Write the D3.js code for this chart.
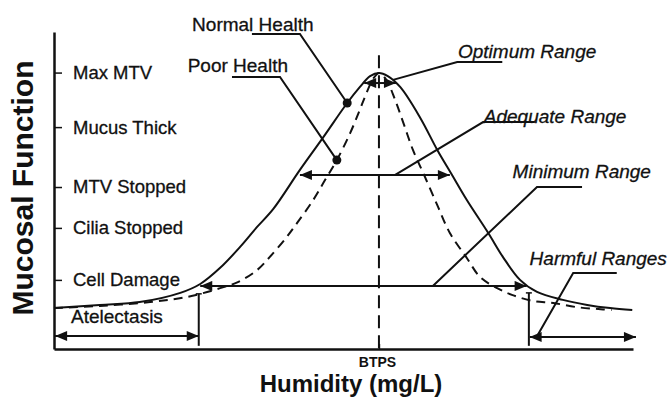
<!DOCTYPE html>
<html>
<head>
<meta charset="utf-8">
<script src="https://cdn.jsdelivr.net/npm/d3@7"></script>
<style>
  body { margin: 0; background: #fff; }
  svg { display: block; font-family: "Liberation Sans", Arial, sans-serif; }
</style>
</head>
<body>
<div id="chart"></div>
<script>
// humidity (mg/L) and mucosal function (relative units)
const normalHumidity = [0, 6.2, 11.6, 17.1, 19.8, 22.5, 25.2, 27.5, 29.7, 33.3, 36.4, 39.7, 41.4, 42.8, 44, 45.2, 46.9, 49.6, 51.9, 53.9, 55.9, 58.8, 60.8, 63.1, 65.4, 68.9, 72.2, 75.3, 78.3];
const normalFunction = [12.9, 13.9, 14.8, 17.7, 20.5, 25.6, 32.2, 38.5, 44.2, 56.5, 66.6, 77.6, 82.6, 86.1, 87.1, 86.1, 82.6, 72.9, 62.8, 54.9, 47.0, 36.6, 29.0, 21.8, 18.0, 15.5, 13.9, 12.9, 12.3];

const poorHumidity = [0, 6.2, 13.0, 18.0, 22.5, 24.9, 27.5, 29.2, 31.5, 32.9, 35.1, 36.7, 38.3, 40.1, 41.4, 42.2, 43.2, 44, 45.0, 46.2, 47.4, 48.6, 50.0, 51.9, 53.6, 55.9, 57.7, 60.0, 62.1, 64.9, 67.6, 70.8, 73.7, 75.5];
const poorFunction = [12.9, 13.6, 14.8, 16.4, 19.2, 21.1, 24.9, 29.0, 35.3, 39.7, 47.0, 53.3, 59.6, 68.1, 75.4, 80.1, 85.2, 87.1, 84.9, 78.5, 70.7, 62.8, 55.5, 45.4, 36.6, 28.7, 22.7, 19.2, 17.0, 15.1, 14.5, 13.2, 12.6, 12.3];

// y axis levels
const levelLabels = ["Cell Damage", "Cilia Stopped", "MTV Stopped", "Mucus Thick", "Max MTV"];
const levelValues = [21.8, 38.2, 51.1, 70.0, 87.2];

// x axis
const btpsLabel = "BTPS";
const btpsValue = 44;

// humidity ranges (double arrows)
const rangeNames = ["Optimum", "Adequate", "Minimum", "Low harmful", "High harmful"];
const rangeFrom = [42.0, 33.3, 19.8, 0.15, 64.4];
const rangeTo = [46.3, 53.6, 64.0, 19.6, 78.8];
const rangeLevel = [83.9, 54.9, 19.9, 4.1, 3.8];

// limits of the minimum range
const boundHumidity = [19.6, 64.3];
const boundTop = [17.4, 17.7];
const boundBottom = [1, 1];

// callouts
const calloutText = ["Normal Health", "Poor Health", "Optimum Range", "Adequate Range", "Minimum Range", "Harmful Ranges"];
const calloutItalic = [false, false, true, true, true, true];
const textHumidity = [18.7, 18.1, 54.7, 58.2, 62.1, 64.4];
const textFunction = [100.3, 87.4, 91.8, 71.3, 53.9, 26.5];
const underlineEnd = [26.8, 24.1, 60.7, 65.1, 71.5, 76.2];
const elbowHumidity = [33.3, 30.6, 54.6, 58.1, 65.4, 70.3];
const elbowFunction = [99.4, 85.8, 90.5, 71.6, 51.1, 24.0];
const targetHumidity = [39.7, 38.3, 45.9, 46.2, 51.3, 65.5];
const targetFunction = [77.6, 59.6, 84.9, 54.9, 19.9, 4.4];

const width = 672, height = 404;
const ink = "#111";

const svg = d3.select("#chart").append("svg")
    .attr("width", width)
    .attr("height", height);

const x = d3.scaleLinear().domain([0, 78.4]).range([54, 633]);
const y = d3.scaleLinear().domain([0, 100]).range([349, 32]);

// arrow heads
svg.append("defs").append("marker")
    .attr("id", "head")
    .attr("viewBox", "0 0 12 10")
    .attr("refX", 12).attr("refY", 5)
    .attr("markerWidth", 13).attr("markerHeight", 10)
    .attr("markerUnits", "userSpaceOnUse")
    .attr("orient", "auto-start-reverse")
    .append("path")
    .attr("d", "M0,0L12,5L0,10Z")
    .attr("fill", ink);

// axes
const yAxis = d3.axisRight(y)
    .tickValues(levelValues)
    .tickFormat((d, i) => levelLabels[i])
    .tickSizeInner(8)
    .tickSizeOuter(0)
    .tickPadding(11);

const gy = svg.append("g").attr("transform", `translate(${x(0)},0)`).call(yAxis);
gy.select(".domain").attr("stroke", ink).attr("stroke-width", 2.5);
gy.selectAll(".tick line").attr("stroke", ink).attr("stroke-width", 1.5);
gy.selectAll(".tick text")
    .attr("font-size", 18.5)
    .attr("font-family", "Liberation Sans, Arial, sans-serif")
    .attr("fill", ink)
    .attr("stroke", ink)
    .attr("stroke-width", 0.3);

const xAxis = d3.axisBottom(x)
    .tickValues([btpsValue])
    .tickFormat(() => btpsLabel)
    .tickSizeInner(-5)
    .tickSizeOuter(0)
    .tickPadding(8);

const gx = svg.append("g").attr("transform", `translate(0,${y(0)})`).call(xAxis);
gx.select(".domain").attr("stroke", ink).attr("stroke-width", 2.5);
gx.selectAll(".tick line").attr("stroke", ink).attr("stroke-width", 1.5);
gx.selectAll(".tick text")
    .attr("font-size", 14)
    .attr("font-weight", "bold")
    .attr("dx", -2)
    .attr("font-family", "Liberation Sans, Arial, sans-serif")
    .attr("fill", ink);

// BTPS dashed line
svg.append("line")
    .attr("x1", x(btpsValue)).attr("x2", x(btpsValue))
    .attr("y1", y(92.7)).attr("y2", y(0))
    .attr("stroke", ink)
    .attr("stroke-width", 2)
    .attr("stroke-dasharray", "13,7");

// curves
const line = d3.line()
    .x(d => x(d[0]))
    .y(d => y(d[1]))
    .curve(d3.curveCatmullRom);

svg.append("path")
    .datum(normalHumidity.map((h, i) => [h, normalFunction[i]]))
    .attr("d", line)
    .attr("fill", "none")
    .attr("stroke", ink)
    .attr("stroke-width", 2);

svg.append("path")
    .datum(poorHumidity.map((h, i) => [h, poorFunction[i]]))
    .attr("d", line)
    .attr("fill", "none")
    .attr("stroke", ink)
    .attr("stroke-width", 2)
    .attr("stroke-dasharray", "9,6");

// range arrows
svg.selectAll(".range")
    .data(rangeNames)
    .enter()
    .append("line")
    .attr("class", "range")
    .attr("x1", (d, i) => x(rangeFrom[i]))
    .attr("x2", (d, i) => x(rangeTo[i]))
    .attr("y1", (d, i) => y(rangeLevel[i]))
    .attr("y2", (d, i) => y(rangeLevel[i]))
    .attr("stroke", ink)
    .attr("stroke-width", 2)
    .attr("marker-start", "url(#head)")
    .attr("marker-end", "url(#head)");

// limit bars
boundHumidity.forEach((h, i) => {
    svg.append("line")
        .attr("x1", x(h)).attr("x2", x(h))
        .attr("y1", y(boundTop[i])).attr("y2", y(boundBottom[i]))
        .attr("stroke", ink).attr("stroke-width", 2);
    svg.append("line")
        .attr("x1", x(h) - 3).attr("x2", x(h) + 3)
        .attr("y1", y(boundTop[i])).attr("y2", y(boundTop[i]))
        .attr("stroke", ink).attr("stroke-width", 1.5);
});

// callout leaders
svg.selectAll(".leader")
    .data(calloutText)
    .enter()
    .append("polyline")
    .attr("class", "leader")
    .attr("points", (d, i) => [
        [x(underlineEnd[i]), y(elbowFunction[i])],
        [x(elbowHumidity[i]), y(elbowFunction[i])],
        [x(targetHumidity[i]), y(targetFunction[i])]
    ].join(" "))
    .attr("fill", "none")
    .attr("stroke", ink)
    .attr("stroke-width", 2);

// health dots
svg.selectAll(".dot")
    .data([0, 1])
    .enter()
    .append("circle")
    .attr("cx", i => x(targetHumidity[i]))
    .attr("cy", i => y(targetFunction[i]))
    .attr("r", 4.5)
    .attr("fill", ink);

// callout labels
svg.selectAll(".callout")
    .data(calloutText)
    .enter()
    .append("text")
    .attr("x", (d, i) => x(textHumidity[i]))
    .attr("y", (d, i) => y(textFunction[i]))
    .attr("font-size", 19)
    .attr("font-style", (d, i) => calloutItalic[i] ? "italic" : "normal")
    .attr("fill", ink)
    .attr("stroke", ink)
    .attr("stroke-width", 0.3)
    .text(d => d);

svg.append("text")
    .attr("x", x(2.3))
    .attr("y", y(8.2))
    .attr("font-size", 19)
    .attr("fill", ink)
    .attr("stroke", ink)
    .attr("stroke-width", 0.3)
    .text("Atelectasis");

// axis titles
svg.append("text")
    .attr("transform", `translate(33,188) rotate(-90)`)
    .attr("text-anchor", "middle")
    .attr("font-size", 30)
    .attr("font-weight", "bold")
    .attr("fill", ink)
    .text("Mucosal Function");

svg.append("text")
    .attr("x", 351)
    .attr("y", 392)
    .attr("text-anchor", "middle")
    .attr("font-size", 24)
    .attr("font-weight", "bold")
    .attr("fill", ink)
    .text("Humidity (mg/L)");
</script>
</body>
</html>
